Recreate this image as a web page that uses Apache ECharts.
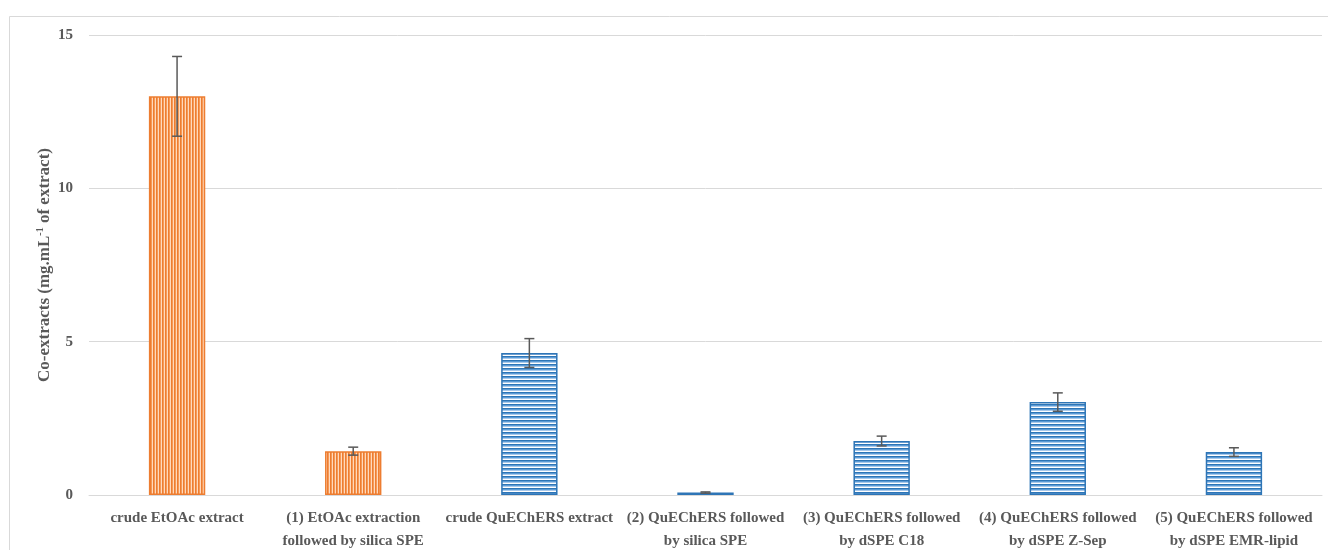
<!DOCTYPE html>
<html>
<head>
<meta charset="utf-8">
<script src="https://cdn.jsdelivr.net/npm/echarts@6/dist/echarts.min.js"></script>
<style>
  html, body { margin: 0; padding: 0; background: #fff; }
  #chart { width: 1328px; height: 550px; }
</style>
</head>
<body>
<div id="chart"></div>
<script>
// Co-extract amounts per clean-up procedure
const categories = [
  'crude EtOAc extract',
  '(1) EtOAc extraction\nfollowed by silica SPE',
  'crude QuEChERS extract',
  '(2) QuEChERS followed\nby silica SPE',
  '(3) QuEChERS followed\nby dSPE C18',
  '(4) QuEChERS followed\nby dSPE Z-Sep',
  '(5) QuEChERS followed\nby dSPE EMR-lipid'
];
const means = [13.0, 1.43, 4.63, 0.08, 1.76, 3.03, 1.40];
const errors = [1.3, 0.13, 0.47, 0.02, 0.16, 0.30, 0.14];
// EtOAc-based procedures are drawn orange, QuEChERS-based blue
const groups = ['etoac', 'etoac', 'quechers', 'quechers', 'quechers', 'quechers', 'quechers'];
const yTicks = { min: 0, max: 15, interval: 5 };

const TEXT = '#595959';
const FONT = 'Liberation Serif';

function stripes(colors, vertical) {
  const n = colors.length;
  const c = document.createElement('canvas');
  c.width = vertical ? n : 8;
  c.height = vertical ? 8 : n;
  const ctx = c.getContext('2d');
  colors.forEach((col, i) => {
    ctx.fillStyle = col;
    if (vertical) ctx.fillRect(i, 0, 1, 8);
    else ctx.fillRect(0, i, 8, 1);
  });
  return c;
}

const orangeFill = { image: stripes(['#ED7D31', '#F59A58', '#FFD9BC'], true), repeat: 'repeat' };
const blueFill = { image: stripes(['#2E75B6', '#5B9BD5', '#A9C9EB', '#FFFFFF'], false), repeat: 'repeat' };

const barData = means.map((v, i) => ({
  value: v,
  itemStyle: groups[i] === 'etoac'
    ? { color: orangeFill, borderColor: '#ED7D31', borderWidth: 1.5 }
    : { color: blueFill, borderColor: '#2E75B6', borderWidth: 1.5 }
}));

const errData = means.map((v, i) => [i, v - errors[i], v + errors[i]]);

const chart = echarts.init(document.getElementById('chart'), null, { renderer: 'canvas' });
chart.setOption({
  animation: false,
  backgroundColor: '#fff',
  graphic: [{
    type: 'rect',
    shape: { x: 9.5, y: 16.5, width: 1400, height: 600 },
    style: { fill: 'none', stroke: '#D9D9D9', lineWidth: 1 },
    silent: true
  }],
  grid: { left: 89, right: 6, top: 35, bottom: 55, outerBoundsMode: 'none' },
  xAxis: {
    type: 'category',
    data: categories,
    axisLine: { lineStyle: { color: '#D9D9D9', width: 1 } },
    axisTick: { show: false },
    axisLabel: {
      interval: 0,
      color: TEXT,
      fontFamily: FONT,
      fontWeight: 'bold',
      fontSize: 15,
      lineHeight: 23,
      margin: 12
    }
  },
  yAxis: {
    type: 'value',
    min: yTicks.min,
    max: yTicks.max,
    interval: yTicks.interval,
    axisLine: { show: false },
    axisTick: { show: false },
    splitLine: { lineStyle: { color: '#D9D9D9', width: 1 } },
    axisLabel: { color: TEXT, fontFamily: FONT, fontWeight: 'bold', fontSize: 15, margin: 16 },
    name: '{a|Co-extracts (mg.mL}{s|-1}{a| of extract)}',
    nameLocation: 'middle',
    nameGap: 35,
    nameMoveOverlap: false,
    nameTextStyle: {
      rich: {
        a: { color: TEXT, fontFamily: FONT, fontWeight: 'bold', fontSize: 17 },
        s: { color: TEXT, fontFamily: FONT, fontWeight: 'bold', fontSize: 10, padding: [0, 0, 9, 0] }
      }
    }
  },
  series: [
    {
      type: 'bar',
      data: barData,
      barWidth: '32%'
    },
    {
      type: 'custom',
      data: errData,
      z: 10,
      renderItem: function (params, api) {
        const x = api.value(0);
        const lo = api.coord([x, api.value(1)]);
        const hi = api.coord([x, api.value(2)]);
        const half = 5;
        const style = { stroke: '#595959', lineWidth: 1.5 };
        return {
          type: 'group',
          children: [
            { type: 'line', shape: { x1: lo[0], y1: lo[1], x2: hi[0], y2: hi[1] }, style },
            { type: 'line', shape: { x1: lo[0] - half, y1: lo[1], x2: lo[0] + half, y2: lo[1] }, style },
            { type: 'line', shape: { x1: hi[0] - half, y1: hi[1], x2: hi[0] + half, y2: hi[1] }, style }
          ]
        };
      }
    }
  ]
});
</script>
</body>
</html>
